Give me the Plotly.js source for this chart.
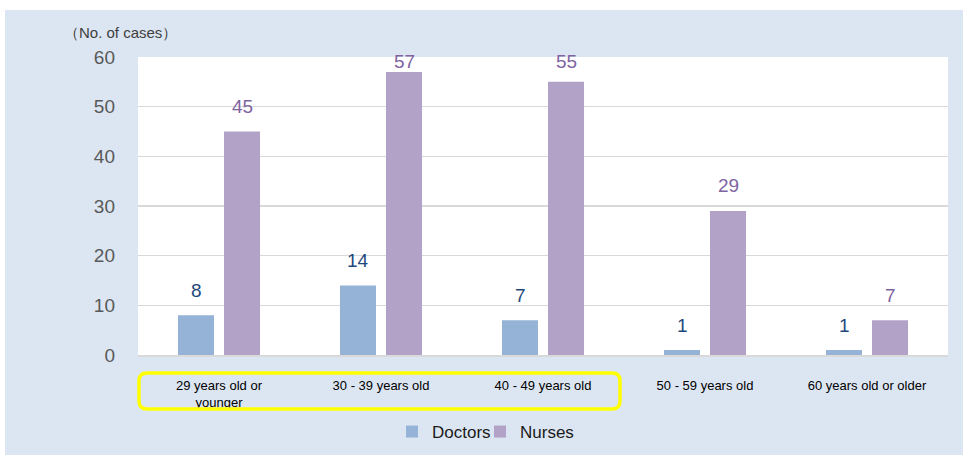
<!DOCTYPE html>
<html>
<head>
<meta charset="utf-8">
<script src="https://cdn.plot.ly/plotly-3.0.1.min.js"></script>
<style>html,body{margin:0;padding:0;background:#dce6f2;overflow:hidden;}</style>
</head>
<body>
<div id="chart" style="width:963px;height:455px;"></div>
<script>
const categories = ["29 years old or<br>younger", "30 - 39 years old", "40 - 49 years old", "50 - 59 years old", "60 years old or older"];
const doctors = [8, 14, 7, 1, 1];
const nurses = [45, 57, 55, 29, 7];
const yTickVals = [0, 10, 20, 30, 40, 50, 60];
const yAxisLabel = "（No. of cases）";

const W = 963, H = 455;
const M = {l: 138, r: 15, t: 57, b: 100, autoexpand: false};
const PW = W - M.l - M.r, PH = H - M.t - M.b;
const YMAX = 60;
const pxPerUnit = PH / YMAX;
const px2x = p => (p - M.l) / PW;
const py2y = p => (H - M.b - p) / PH;

function labelY(v) {
  return Math.min(v + 25 / pxPerUnit, YMAX - 4.4 / pxPerUnit);
}

const annotations = [];
categories.forEach((c, i) => {
  annotations.push({x: c, y: labelY(doctors[i]), xref: 'x', yref: 'y', text: String(doctors[i]),
    showarrow: false, xshift: -23, yanchor: 'middle', xanchor: 'center',
    font: {family: 'Liberation Sans, Arial', size: 19, color: '#1f497d'}});
  annotations.push({x: c, y: labelY(nurses[i]), xref: 'x', yref: 'y', text: String(nurses[i]),
    showarrow: false, xshift: 23, yanchor: 'middle', xanchor: 'center',
    font: {family: 'Liberation Sans, Arial', size: 19, color: '#8064a2'}});
});
annotations.push({x: px2x(120), y: py2y(32), xref: 'paper', yref: 'paper', text: yAxisLabel,
  showarrow: false, xanchor: 'center', yanchor: 'middle',
  font: {family: 'Liberation Sans, Arial', size: 15, color: '#404040'}});

// rounded yellow rectangle path (paper coords)
function roundRect(x0, y0, x1, y1, r) {
  const X = px2x, Y = py2y;
  return `M ${X(x0 + r)},${Y(y0)} L ${X(x1 - r)},${Y(y0)} Q ${X(x1)},${Y(y0)} ${X(x1)},${Y(y0 + r)} ` +
    `L ${X(x1)},${Y(y1 - r)} Q ${X(x1)},${Y(y1)} ${X(x1 - r)},${Y(y1)} ` +
    `L ${X(x0 + r)},${Y(y1)} Q ${X(x0)},${Y(y1)} ${X(x0)},${Y(y1 - r)} ` +
    `L ${X(x0)},${Y(y0 + r)} Q ${X(x0)},${Y(y0)} ${X(x0 + r)},${Y(y0)} Z`;
}

const shapes = [
  {type: 'rect', xref: 'paper', yref: 'paper', x0: px2x(0), x1: px2x(W), y0: py2y(0), y1: py2y(10),
    fillcolor: '#ffffff', line: {width: 0}, layer: 'below'},
  {type: 'rect', xref: 'paper', yref: 'paper', x0: px2x(0), x1: px2x(5), y0: py2y(0), y1: py2y(H),
    fillcolor: '#ffffff', line: {width: 0}, layer: 'below'},
  {type: 'path', xref: 'paper', yref: 'paper', path: roundRect(139, 373, 620, 409, 8),
    line: {color: '#ffff00', width: 3.5}, layer: 'above'}
];

const traces = [
  {type: 'bar', name: 'Doctors', x: categories, y: doctors, marker: {color: '#95b3d7'}, hoverinfo: 'none', legend: 'legend'},
  {type: 'bar', name: 'Nurses', x: categories, y: nurses, marker: {color: '#b3a2c7'}, hoverinfo: 'none', legend: 'legend2'}
];

const legendFont = {family: 'Liberation Sans, Arial', size: 17, color: '#1a1a1a'};
const layout = {
  width: W, height: H,
  margin: M,
  paper_bgcolor: '#dce6f2',
  plot_bgcolor: '#ffffff',
  barmode: 'group',
  bargap: 0.432,
  bargroupgap: 0.217,
  showlegend: true,
  legend: {orientation: 'h', x: px2x(392), xanchor: 'left', y: py2y(432), yanchor: 'middle',
    font: legendFont, bgcolor: 'rgba(0,0,0,0)', itemwidth: 30},
  legend2: {orientation: 'h', x: px2x(480), xanchor: 'left', y: py2y(432), yanchor: 'middle',
    font: legendFont, bgcolor: 'rgba(0,0,0,0)', itemwidth: 30},
  xaxis: {type: 'category', showgrid: false, showline: true, linecolor: '#d9d9d9', linewidth: 2,
    ticks: '', ticklabelstandoff: 17, automargin: false,
    tickfont: {family: 'Liberation Sans, Arial', size: 13, color: '#000000'}},
  yaxis: {range: [0, YMAX], tickvals: yTickVals, showgrid: true, gridcolor: '#d9d9d9', gridwidth: 1.5,
    zeroline: false, showline: false, ticks: '', ticklabelstandoff: 22, automargin: false,
    tickfont: {family: 'Liberation Sans, Arial', size: 19, color: '#595959'}},
  annotations: annotations,
  shapes: shapes,
  font: {family: 'Liberation Sans, Arial'}
};

Plotly.newPlot('chart', traces, layout, {displayModeBar: false, staticPlot: true});
</script>
</body>
</html>
